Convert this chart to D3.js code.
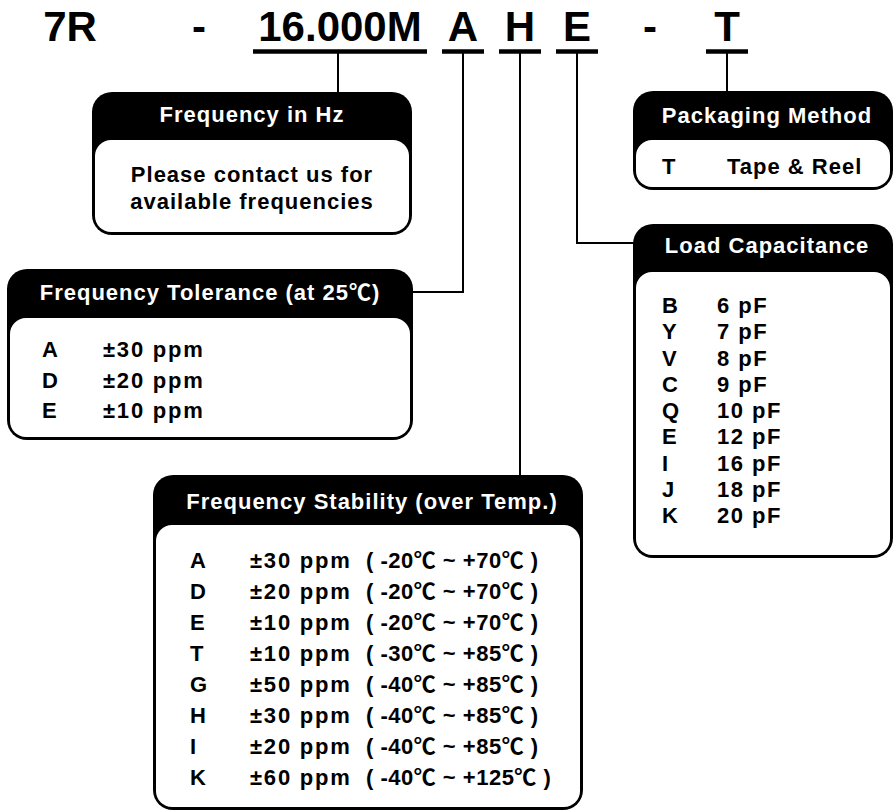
<!DOCTYPE html>
<html>
<head>
<meta charset="utf-8">
<script src="https://cdn.jsdelivr.net/npm/d3@7"></script>
<style>
  html, body { margin: 0; padding: 0; background: #fff; }
  svg { display: block; }
  text { font-family: "Liberation Sans", Arial, "Noto Sans CJK KR", sans-serif; font-weight: bold; }
</style>
</head>
<body>
<div id="chart"></div>
<script>
// ---------- DATA ----------
const partSegments = ["7R", "-", "16.000M", "A", "H", "E", "-", "T"];
const underlinedSegments = ["16.000M", "A", "H", "E", "T"];

const frequencyTitle = "Frequency in Hz";
const frequencyLines = ["Please contact us for", "available frequencies"];

const toleranceTitle = "Frequency Tolerance (at 25\u2103)";
const toleranceCodes = ["A", "D", "E"];
const toleranceValues = ["\u00B130 ppm", "\u00B120 ppm", "\u00B110 ppm"];

const stabilityTitle = "Frequency Stability (over Temp.)";
const stabilityCodes = ["A", "D", "E", "T", "G", "H", "I", "K"];
const stabilityValues = ["\u00B130 ppm", "\u00B120 ppm", "\u00B110 ppm", "\u00B110 ppm", "\u00B150 ppm", "\u00B130 ppm", "\u00B120 ppm", "\u00B160 ppm"];
const stabilityRanges = ["( -20\u2103 ~ +70\u2103 )", "( -20\u2103 ~ +70\u2103 )", "( -20\u2103 ~ +70\u2103 )", "( -30\u2103 ~ +85\u2103 )",
                         "( -40\u2103 ~ +85\u2103 )", "( -40\u2103 ~ +85\u2103 )", "( -40\u2103 ~ +85\u2103 )", "( -40\u2103 ~ +125\u2103 )"];

const packagingTitle = "Packaging Method";
const packagingCodes = ["T"];
const packagingValues = ["Tape & Reel"];

const loadTitle = "Load Capacitance";
const loadCodes = ["B", "Y", "V", "C", "Q", "E", "I", "J", "K"];
const loadValues = ["6 pF", "7 pF", "8 pF", "9 pF", "10 pF", "12 pF", "16 pF", "18 pF", "20 pF"];

// ---------- LAYOUT ----------
const W = 894, H = 812;
const svg = d3.select("#chart").append("svg").attr("width", W).attr("height", H);

const segX = d3.scaleOrdinal().domain(d3.range(partSegments.length))
  .range([70, 199, 340, 463, 520, 577, 650, 727]);
const segBaseline = 41;
const underlineY = 51.5;
const underlineHalf = { "16.000M": 87, "A": 21, "H": 21, "E": 21, "T": 21 };

svg.append("g").selectAll("text").data(partSegments).join("text")
  .attr("x", (d, i) => segX(i)).attr("y", segBaseline)
  .attr("text-anchor", "middle").attr("font-size", 42).attr("fill", "#000")
  .text(d => d);

partSegments.forEach((d, i) => {
  if (underlinedSegments.includes(d) && i > 1) {
    svg.append("line")
      .attr("x1", segX(i) - underlineHalf[d]).attr("x2", segX(i) + underlineHalf[d])
      .attr("y1", underlineY).attr("y2", underlineY)
      .attr("stroke", "#000").attr("stroke-width", 4.5);
  }
});

const conn = svg.append("g").attr("fill", "none").attr("stroke", "#000").attr("stroke-width", 2);
const lineGen = d3.line();
conn.append("path").attr("d", lineGen([[338, underlineY], [338, 93]]));
conn.append("path").attr("d", lineGen([[463, underlineY], [463, 292], [412, 292]]));
conn.append("path").attr("d", lineGen([[520, underlineY], [520, 476]]));
conn.append("path").attr("d", lineGen([[577, underlineY], [577, 243], [634, 243]]));
conn.append("path").attr("d", lineGen([[727, underlineY], [727, 92]]));

function drawBox(b) {
  const g = svg.append("g");
  g.append("rect").attr("x", b.x1).attr("y", b.y1)
    .attr("width", b.x2 - b.x1).attr("height", b.y2 - b.y1)
    .attr("rx", 20).attr("ry", 20).attr("fill", "#000");
  g.append("rect").attr("x", b.x1 + 3).attr("y", b.hb)
    .attr("width", b.x2 - b.x1 - 6).attr("height", b.y2 - b.hb - 3)
    .attr("rx", 16).attr("ry", 16).attr("fill", "#fff");
  g.append("text").attr("x", (b.x1 + b.x2) / 2 + (b.tdx || 0)).attr("y", b.tb)
    .attr("text-anchor", "middle").attr("font-size", 22).attr("fill", "#fff")
    .attr("letter-spacing", 1)
    .text(b.title);
  return g;
}

const gHz = drawBox({ x1: 92, y1: 92, x2: 412, y2: 235, hb: 140, tb: 122, title: frequencyTitle });
const hzY = d3.scaleLinear().domain([0, 1]).range([182, 209]);
gHz.selectAll("text.body").data(frequencyLines).join("text").attr("class", "body")
  .attr("x", 252).attr("y", (d, i) => hzY(i)).attr("text-anchor", "middle")
  .attr("font-size", 22).attr("letter-spacing", 1).attr("fill", "#000").text(d => d);

function drawRows(g, codes, cols, yScale) {
  codes.forEach((c, i) => {
    g.append("text").attr("x", cols.codeX).attr("y", yScale(i))
      .attr("font-size", 22).attr("letter-spacing", 1).attr("fill", "#000").text(c);
    cols.columns.forEach(col => {
      g.append("text").attr("x", col.x).attr("y", yScale(i))
        .attr("font-size", 22).attr("letter-spacing", col.ls).attr("fill", "#000")
        .text(col.values[i]);
    });
  });
}

const gTol = drawBox({ x1: 7, y1: 269, x2: 413, y2: 440, hb: 318, tb: 300, title: toleranceTitle });
const tolY = d3.scaleLinear().domain([0, toleranceCodes.length - 1]).range([357, 418]);
drawRows(gTol, toleranceCodes, { codeX: 42, columns: [{ x: 103, values: toleranceValues, ls: 1.8 }] }, tolY);

const gStab = drawBox({ x1: 153, y1: 475, x2: 583, y2: 810, hb: 525, tb: 509, title: stabilityTitle, tdx: 4 });
const stabY = d3.scaleLinear().domain([0, stabilityCodes.length - 1]).range([568, 785]);
drawRows(gStab, stabilityCodes, { codeX: 190, columns: [
  { x: 250, values: stabilityValues, ls: 1.8 },
  { x: 366, values: stabilityRanges, ls: 0.5 }
] }, stabY);

const gPack = drawBox({ x1: 633, y1: 91, x2: 893, y2: 190, hb: 140, tb: 123, title: packagingTitle, tdx: 4 });
const packY = d3.scaleLinear().domain([0, 1]).range([174, 200]);
drawRows(gPack, packagingCodes, { codeX: 662, columns: [{ x: 727, values: packagingValues, ls: 1 }] }, packY);

const gLoad = drawBox({ x1: 633, y1: 224, x2: 893, y2: 558, hb: 272, tb: 253, title: loadTitle, tdx: 4 });
const loadY = d3.scaleLinear().domain([0, loadCodes.length - 1]).range([313, 523]);
drawRows(gLoad, loadCodes, { codeX: 662, columns: [{ x: 717, values: loadValues, ls: 1.5 }] }, loadY);
</script>
</body>
</html>
